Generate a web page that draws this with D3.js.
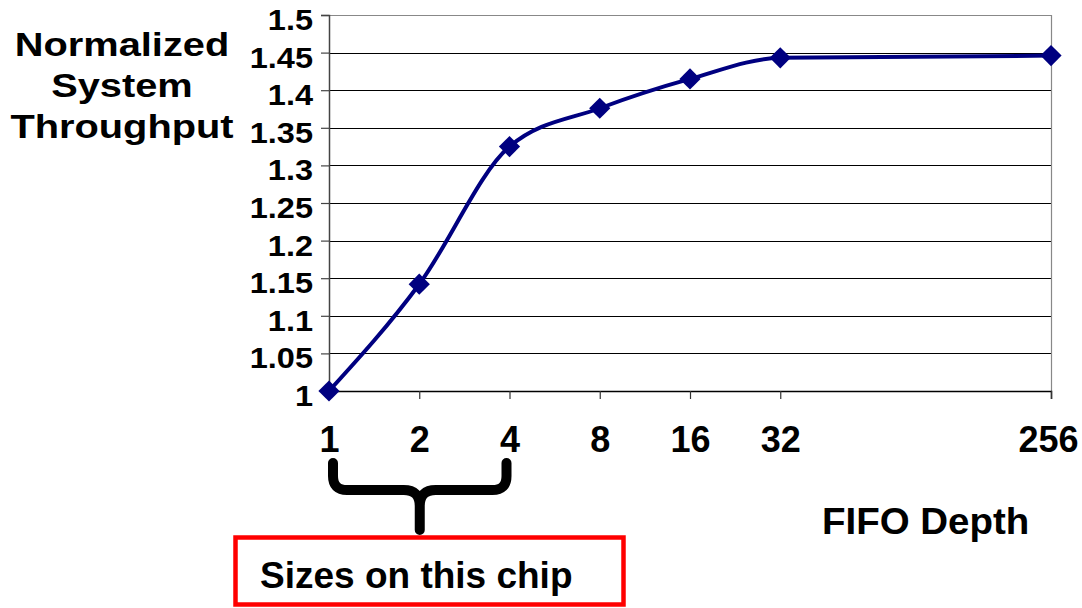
<!DOCTYPE html>
<html>
<head>
<meta charset="utf-8">
<script src="https://cdn.jsdelivr.net/npm/d3@7"></script>
<style>
  html, body { margin: 0; padding: 0; background: #fff; }
  svg { display: block; font-family: "Liberation Sans", Arial, sans-serif; font-weight: bold; }
</style>
</head>
<body>
<svg id="chart" width="1082" height="608"></svg>
<script>
// FIFO depth vs. normalized throughput
const fifoDepths = [1, 2, 4, 8, 16, 32, 256];
const throughput = [1.0, 1.142, 1.325, 1.376, 1.415, 1.443, 1.446];
const yTicks = [1, 1.05, 1.1, 1.15, 1.2, 1.25, 1.3, 1.35, 1.4, 1.45, 1.5];
const yTickLabels = ["1", "1.05", "1.1", "1.15", "1.2", "1.25", "1.3", "1.35", "1.4", "1.45", "1.5"];
const chipSizes = [1, 4];   // range covered by the brace

const W = 1082, H = 608;
const margin = { top: 15, right: 31, bottom: 217, left: 329 };
const svg = d3.select("#chart");

const x = d3.scaleLog().base(2)
  .domain([1, 256])
  .range([margin.left, W - margin.right]);
const y = d3.scaleLinear()
  .domain([1, 1.5])
  .range([H - margin.bottom, margin.top]);

// widen text horizontally by a factor
function stretch(sel, k) {
  sel.each(function () {
    const w = this.getComputedTextLength();
    d3.select(this).attr("textLength", w * k).attr("lengthAdjust", "spacingAndGlyphs");
  });
}

// horizontal gridlines
svg.append("g")
  .selectAll("line")
  .data(yTicks.filter(v => v > 1 && v < 1.5))
  .join("line")
  .attr("x1", x(1)).attr("x2", x(256))
  .attr("y1", d => Math.round(y(d)) + 0.5).attr("y2", d => Math.round(y(d)) + 0.5)
  .attr("stroke", "#000").attr("stroke-width", 1);

// plot-area border (top and right)
svg.append("path")
  .attr("d", `M${x(1)},${Math.round(y(1.5)) + 0.5}H${Math.round(x(256)) + 0.5}V${y(1)}`)
  .attr("fill", "none").attr("stroke", "#888").attr("stroke-width", 1.2);

// y axis
const yAxis = svg.append("g")
  .attr("transform", `translate(${x(1)},0)`)
  .call(d3.axisLeft(y).tickValues(yTicks).tickFormat((d, i) => yTickLabels[i]).tickSize(8).tickPadding(8));
yAxis.select(".domain").attr("stroke", "#444").attr("stroke-width", 1.5);
yAxis.selectAll(".tick line").attr("stroke", "#444").attr("stroke-width", 1.2);
yAxis.selectAll(".tick text")
  .attr("font-family", "Liberation Sans, Arial, sans-serif")
  .attr("font-weight", "bold")
  .attr("font-size", 29)
  .attr("fill", "#000")
  .attr("dy", "0.5em")
  .call(stretch, 1.12);

// x axis
const xAxis = svg.append("g")
  .attr("transform", `translate(0,${y(1)})`)
  .call(d3.axisBottom(x).tickValues(fifoDepths).tickFormat(d3.format("d")).tickSize(8).tickPadding(0));
xAxis.select(".domain").attr("stroke", "#000").attr("stroke-width", 1.5);
xAxis.selectAll(".tick line").attr("stroke", "#333").attr("stroke-width", 1.2);
xAxis.selectAll(".tick text")
  .attr("font-family", "Liberation Sans, Arial, sans-serif")
  .attr("font-weight", "bold")
  .attr("font-size", 36)
  .attr("fill", "#000")
  .attr("y", 61)
  .attr("dy", 0)
  .each(function (d) {
    // keep the last label inside the canvas
    const half = this.getComputedTextLength() / 2;
    const over = x(d) + half - (W - 4);
    if (over > 0) d3.select(this).attr("x", -over);
  });

// smoothed series line
const pts = fifoDepths.map((d, i) => [d, throughput[i]]);
const line = d3.line()
  .x(d => x(d[0]))
  .y(d => y(d[1]))
  .curve(d3.curveMonotoneX);
svg.append("path")
  .datum(pts)
  .attr("d", line)
  .attr("fill", "none")
  .attr("stroke", "#000080")
  .attr("stroke-width", 4)
  .attr("stroke-linejoin", "round");

// diamond markers
const diamond = d3.symbol().type(d3.symbolSquare).size(225);
svg.append("g")
  .selectAll("path")
  .data(pts)
  .join("path")
  .attr("d", diamond)
  .attr("transform", d => `translate(${x(d[0])},${y(d[1])}) rotate(45)`)
  .attr("fill", "#000080");

// y-axis title
const titleLines = ["Normalized", "System", "Throughput"];
svg.append("g")
  .selectAll("text")
  .data(titleLines)
  .join("text")
  .attr("x", 122)
  .attr("y", (d, i) => 56 + i * 41)
  .attr("text-anchor", "middle")
  .attr("font-size", 34)
  .text(d => d)
  .call(stretch, 1.17);

// x-axis title
svg.append("text")
  .attr("x", 822)
  .attr("y", 534)
  .attr("font-size", 37)
  .text("FIFO Depth")
  .call(stretch, 1.04);

// brace under the on-chip sizes
const bx0 = x(chipSizes[0]) + 4, bx1 = x(chipSizes[1]) - 3;
const bm = (bx0 + bx1) / 2;
const bTop = 463, bBar = 490, bTip = 530, r = 14;
svg.append("path")
  .attr("d", `M${bx0},${bTop} V${bBar - r} Q${bx0},${bBar} ${bx0 + r},${bBar} H${bm - 16}
              Q${bm},${bBar} ${bm},${bBar + 16} V${bTip}
              M${bm},${bBar + 16} Q${bm},${bBar} ${bm + 16},${bBar} H${bx1 - r}
              Q${bx1},${bBar} ${bx1},${bBar - r} V${bTop}`)
  .attr("fill", "none")
  .attr("stroke", "#000")
  .attr("stroke-width", 10)
  .attr("stroke-linecap", "round")
  .attr("stroke-linejoin", "round");

// callout box
svg.append("rect")
  .attr("x", 235.5).attr("y", 537.5)
  .attr("width", 388).attr("height", 67)
  .attr("fill", "none")
  .attr("stroke", "#ff0000")
  .attr("stroke-width", 4.5);
svg.append("text")
  .attr("x", 260)
  .attr("y", 588)
  .attr("font-size", 37)
  .text("Sizes on this chip");
</script>
</body>
</html>
